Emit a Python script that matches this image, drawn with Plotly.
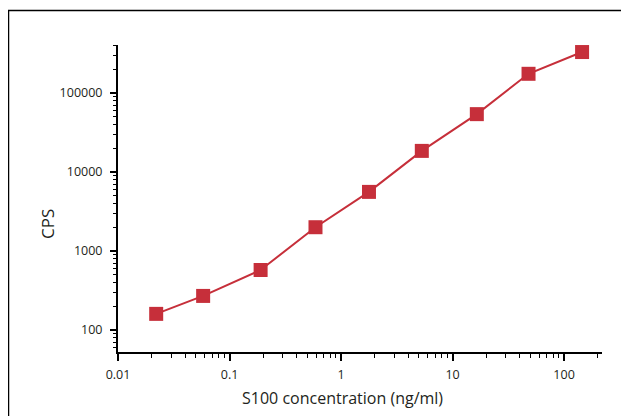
import plotly.graph_objects as go
import numpy as np

# Data
concentration = [0.022, 0.058, 0.19, 0.59, 1.78, 5.3, 16.5, 48, 145]
cps = [160, 270, 575, 2000, 5600, 18500, 54000, 175000, 330000]

x_tickvals = [0.01, 0.1, 1, 10, 100]
x_ticktext = ["0.01", "0.1", "1", "10", "100"]
y_tickvals = [100, 1000, 10000, 100000]
y_ticktext = ["100", "1000", "10000", "100000"]

RED = "#c62f3a"
TXT = "#231f20"
FONT = "Open Sans"

# page body has an 8px default margin -> work in page pixels, subtract it
OFF = 8
W, H = 629 - OFF, 416 - OFF
L, R, T, B = 118, 602, 45, 352          # plot area in page pixels
pw, ph = R - L, B - T


def px(x):
    return (x - L) / pw


def py(y):
    return (B - y) / ph


x_minor = [m * 10.0 ** e for e in range(-2, 3) for m in range(2, 10)]
y_minor = [m * 10.0 ** e for e in range(1, 6) for m in range(2, 10)]

fig = go.Figure()
fig.add_trace(go.Scatter(
    x=concentration, y=cps, mode="lines+markers",
    line=dict(color=RED, width=2),
    marker=dict(symbol="square", size=14, color=RED),
    showlegend=False, cliponaxis=False,
))

fig.update_xaxes(
    type="log", range=[-2, 2.34], automargin=False,
    showline=True, linecolor="black", linewidth=2,
    showgrid=False, zeroline=False,
    ticks="outside", ticklen=7, tickwidth=2, tickcolor="black",
    tickmode="array", tickvals=x_tickvals, ticktext=x_ticktext,
    tickfont=dict(family=FONT, size=12.5, color=TXT),
    ticklabelstandoff=3,
    minor=dict(ticks="outside", ticklen=4, tickwidth=1, tickcolor="black",
               tickmode="array", tickvals=x_minor, showgrid=False),
)
fig.update_yaxes(
    type="log", range=[1.7215, 5.6076], automargin=False,
    showline=True, linecolor="black", linewidth=2,
    showgrid=False, zeroline=False,
    ticks="outside", ticklen=6, tickwidth=2, tickcolor="black",
    tickmode="array", tickvals=y_tickvals, ticktext=y_ticktext,
    tickfont=dict(family=FONT, size=12.5, color=TXT),
    ticklabelstandoff=5,
    minor=dict(ticks="outside", ticklen=3, tickwidth=1, tickcolor="black",
               tickmode="array", tickvals=y_minor, showgrid=False),
)

fig.add_annotation(text="CPS", x=px(47), y=py(224), xref="paper", yref="paper",
                   xanchor="center", yanchor="middle",
                   textangle=-90, showarrow=False,
                   font=dict(family=FONT, size=17, color=TXT))
fig.add_annotation(text="S100 concentration (ng/ml)", x=px(342), y=py(398),
                   xref="paper", yref="paper", xanchor="center", yanchor="middle",
                   showarrow=False,
                   font=dict(family=FONT, size=16, color=TXT))

# outer frame (extends past the right and bottom edges)
fig.add_shape(type="rect", xref="paper", yref="paper",
              x0=px(8.5), x1=px(680), y0=py(480), y1=py(10.5),
              line=dict(color="black", width=1.5), layer="below")

fig.update_layout(
    width=W, height=H,
    margin=dict(l=L - OFF, r=W - (R - OFF), t=T - OFF, b=H - (B - OFF),
                autoexpand=False),
    plot_bgcolor="white", paper_bgcolor="white",
)

fig.write_html("out.html")
